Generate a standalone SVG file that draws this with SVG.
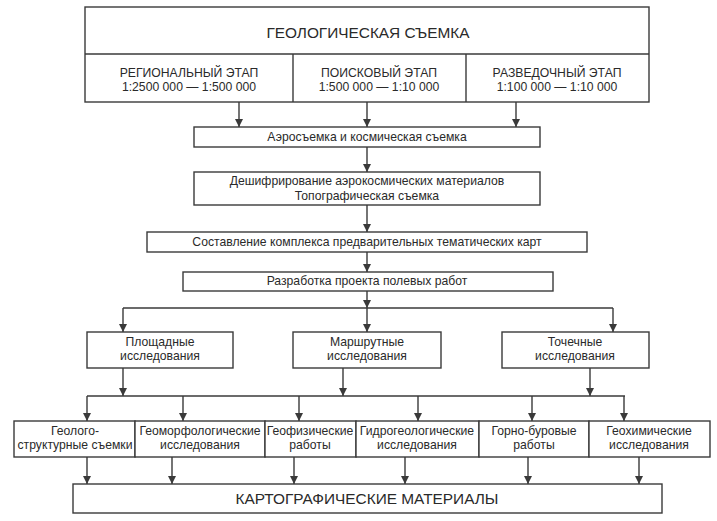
<svg xmlns="http://www.w3.org/2000/svg" width="717" height="521" viewBox="0 0 717 521">
<defs>
<marker id="ah" viewBox="0 0 10 10" refX="10" refY="5" markerWidth="8" markerHeight="8" markerUnits="userSpaceOnUse" orient="auto">
<path d="M0,0 L10,5 L0,10 z" fill="#3a3a3a"/>
</marker>
<style>
rect{fill:#fff;stroke:#3a3a3a;stroke-width:1.4}
line.d{stroke:#3a3a3a;stroke-width:1.4}
.c path{fill:none;stroke:#3a3a3a;stroke-width:1.4}
.c path.a{marker-end:url(#ah)}
text{font-family:"Liberation Sans","DejaVu Sans",sans-serif;fill:#2a2a2a;text-anchor:middle;font-size:12.2px}
text.big{font-size:15.4px}
</style>
</defs>
<rect x="0" y="0" width="717" height="521" style="fill:#fff;stroke:none"/>

<g id="top">
<rect x="85" y="7" width="564" height="95"/>
<line class="d" x1="85" y1="54" x2="649" y2="54"/>
<line class="d" x1="293" y1="54" x2="293" y2="102"/>
<line class="d" x1="466" y1="54" x2="466" y2="102"/>
<text class="big" x="368" y="38">ГЕОЛОГИЧЕСКАЯ СЪЕМКА</text>
</g>
<g id="stage1"><text x="189" y="77">РЕГИОНАЛЬНЫЙ ЭТАП</text><text x="189" y="91">1:2500 000 — 1:500 000</text></g>
<g id="stage2"><text x="379" y="77">ПОИСКОВЫЙ ЭТАП</text><text x="379" y="91">1:500 000 — 1:10 000</text></g>
<g id="stage3"><text x="557" y="77">РАЗВЕДОЧНЫЙ ЭТАП</text><text x="557" y="91">1:100 000 — 1:10 000</text></g>

<g id="aero"><rect x="194" y="127" width="346" height="20"/><text x="367" y="141">Аэросъемка и космическая съемка</text></g>
<g id="decipher"><rect x="194" y="172" width="346" height="33"/><text x="367" y="185">Дешифрирование аэрокосмических материалов</text><text x="367" y="200">Топографическая съемка</text></g>
<g id="compose"><rect x="147" y="232" width="440" height="20"/><text x="367" y="246">Составление комплекса предварительных тематических карт</text></g>
<g id="develop"><rect x="183" y="272" width="370" height="19"/><text x="367" y="285">Разработка проекта полевых работ</text></g>

<g id="area"><rect x="87" y="332" width="146" height="36"/><text x="160" y="346">Площадные</text><text x="160" y="360">исследования</text></g>
<g id="route"><rect x="293" y="332" width="148" height="36"/><text x="367" y="346">Маршрутные</text><text x="367" y="360">исследования</text></g>
<g id="point"><rect x="502" y="332" width="147" height="36"/><text x="575" y="346">Точечные</text><text x="575" y="360">исследования</text></g>

<g id="geostruct"><rect x="14" y="421" width="121" height="36"/><text x="75" y="435">Геолого-</text><text x="75" y="449">структурные съемки</text></g>
<g id="geomorph"><rect x="135" y="421" width="130" height="36"/><text x="200" y="435">Геоморфологические</text><text x="200" y="449">исследования</text></g>
<g id="geophys"><rect x="265" y="421" width="91" height="36"/><text x="310" y="435">Геофизические</text><text x="310" y="449">работы</text></g>
<g id="hydro"><rect x="356" y="421" width="123" height="36"/><text x="417" y="435">Гидрогеологические</text><text x="417" y="449">исследования</text></g>
<g id="mining"><rect x="479" y="421" width="110" height="36"/><text x="534" y="435">Горно-буровые</text><text x="534" y="449">работы</text></g>
<g id="geochem"><rect x="589" y="421" width="121" height="36"/><text x="649" y="435">Геохимические</text><text x="649" y="449">исследования</text></g>

<g id="maps"><rect x="73" y="484" width="589" height="29"/><text class="big" x="367" y="504">КАРТОГРАФИЧЕСКИЕ МАТЕРИАЛЫ</text></g>

<g id="connectors" class="c">
<path class="a" d="M239,102 V127"/>
<path class="a" d="M367,102 V127"/>
<path class="a" d="M516,102 V127"/>
<path class="a" d="M367,147 V172"/>
<path class="a" d="M367,205 V232"/>
<path class="a" d="M367,252 V272"/>
<path class="a" d="M367,291 V308"/>
<path d="M123,308 H613"/>
<path class="a" d="M123,308 V332"/>
<path class="a" d="M367,308 V332"/>
<path class="a" d="M613,308 V332"/>
<path class="a" d="M123,368 V396"/>
<path class="a" d="M343,368 V396"/>
<path class="a" d="M590,368 V396"/>
<path d="M87,396 H625"/>
<path class="a" d="M87,396 V421"/>
<path class="a" d="M183,396 V421"/>
<path class="a" d="M299,396 V421"/>
<path class="a" d="M418,396 V421"/>
<path class="a" d="M532,396 V421"/>
<path class="a" d="M624,396 V421"/>
<path class="a" d="M87,457 V484"/>
<path class="a" d="M172,457 V484"/>
<path class="a" d="M294,457 V484"/>
<path class="a" d="M405,457 V484"/>
<path class="a" d="M528,457 V484"/>
<path class="a" d="M639,457 V484"/>
</g>
</svg>
